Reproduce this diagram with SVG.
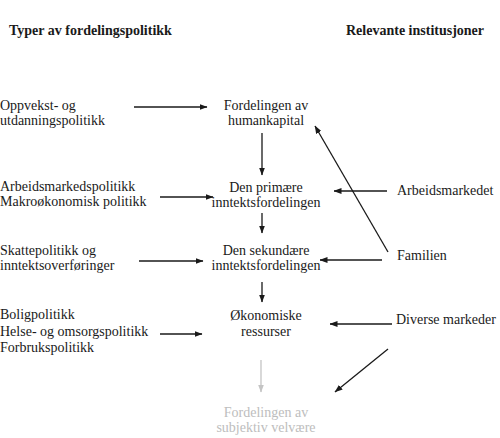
<svg xmlns="http://www.w3.org/2000/svg" width="500" height="438" viewBox="0 0 500 438">
<style>
text{font-size:14px;fill:#1a1a1a}
.h{font-weight:bold}
.c{text-anchor:middle}
.g{fill:#bdbdbd}
.ln{stroke:#1a1a1a;stroke-width:1.3;fill:none}
.lg{stroke:#c4c4c4;stroke-width:1.3;fill:none}
</style>
<defs>
<marker id="ah" markerWidth="8" markerHeight="6" refX="7.5" refY="3" orient="auto" markerUnits="userSpaceOnUse"><path d="M0,0 L8,3 L0,6 Z" fill="#1a1a1a"/></marker>
<marker id="ahg" markerWidth="8" markerHeight="6" refX="7.5" refY="3" orient="auto" markerUnits="userSpaceOnUse"><path d="M0,0 L8,3 L0,6 Z" fill="#c4c4c4"/></marker>
</defs>
<g font-family="Liberation Serif, Times New Roman, serif">
<g id="headers">
<text class="h" x="9" y="35">Typer av fordelingspolitikk</text>
<text class="h" x="346" y="35">Relevante institusjoner</text>
</g>
<g id="pol-oppvekst"><text x="0" y="110">Oppvekst- og</text><text x="0" y="125">utdanningspolitikk</text></g>
<g id="pol-arbeid"><text x="0" y="191">Arbeidsmarkedspolitikk</text><text x="0" y="206">Makroøkonomisk politikk</text></g>
<g id="pol-skatt"><text x="0" y="255">Skattepolitikk og</text><text x="0" y="270">inntektsoverføringer</text></g>
<g id="pol-bolig"><text x="0" y="319">Boligpolitikk</text><text x="0" y="335.5">Helse- og omsorgspolitikk</text><text x="0" y="352">Forbrukspolitikk</text></g>
<g id="n-human"><text class="c" x="266" y="110">Fordelingen av</text><text class="c" x="266" y="125">humankapital</text></g>
<g id="n-primaer"><text class="c" x="266" y="192">Den primære</text><text class="c" x="266" y="207">inntektsfordelingen</text></g>
<g id="n-sekundaer"><text class="c" x="266" y="255">Den sekundære</text><text class="c" x="266" y="270">inntektsfordelingen</text></g>
<g id="n-okonomi"><text class="c" x="266" y="320">Økonomiske</text><text class="c" x="266" y="336">ressurser</text></g>
<g id="n-velvaere"><text class="c g" x="266" y="417">Fordelingen av</text><text class="c g" x="266" y="432">subjektiv velvære</text></g>
<g id="i-arbeidsmarkedet"><text x="397" y="195">Arbeidsmarkedet</text></g>
<g id="i-familien"><text x="397" y="260">Familien</text></g>
<g id="i-diverse"><text x="396" y="324">Diverse markeder</text></g>
</g>
<g id="connectors">
<line class="ln" x1="134" y1="107" x2="207" y2="107" marker-end="url(#ah)"/>
<line class="ln" x1="262" y1="133" x2="262" y2="175" marker-end="url(#ah)"/>
<line class="ln" x1="160" y1="197" x2="213" y2="197" marker-end="url(#ah)"/>
<line class="ln" x1="387" y1="191" x2="334" y2="191" marker-end="url(#ah)"/>
<line class="ln" x1="262" y1="213" x2="262" y2="233" marker-end="url(#ah)"/>
<line class="ln" x1="139" y1="261" x2="203" y2="261" marker-end="url(#ah)"/>
<line class="ln" x1="382" y1="260" x2="320" y2="260" marker-end="url(#ah)"/>
<line class="ln" x1="388" y1="252" x2="315" y2="126" marker-end="url(#ah)"/>
<line class="ln" x1="262" y1="282" x2="262" y2="302" marker-end="url(#ah)"/>
<line class="ln" x1="160" y1="334" x2="202" y2="334" marker-end="url(#ah)"/>
<line class="ln" x1="392" y1="324" x2="330" y2="324" marker-end="url(#ah)"/>
<line class="ln" x1="388" y1="349" x2="335" y2="392" marker-end="url(#ah)"/>
<line class="lg" x1="261" y1="360" x2="261" y2="392" marker-end="url(#ahg)"/>
</g>
</svg>
